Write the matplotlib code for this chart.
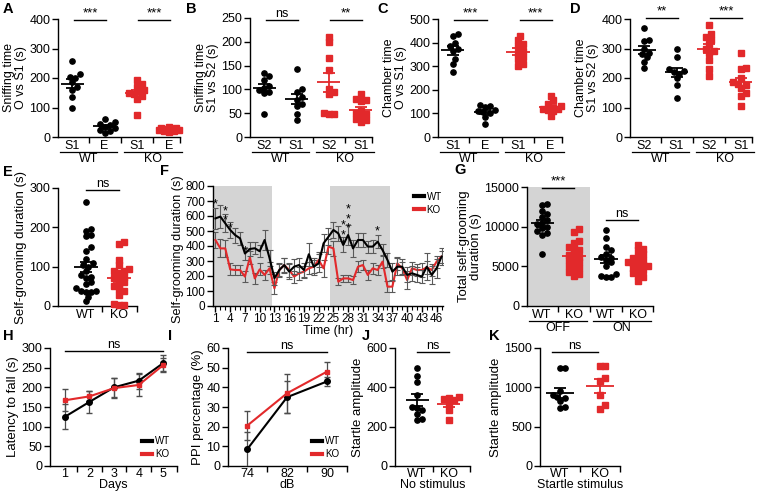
import numpy as np
import matplotlib
matplotlib.use("Agg")
import matplotlib.pyplot as plt
from matplotlib.lines import Line2D

plt.rcParams["font.family"] = ["Liberation Sans", "DejaVu Sans"]
plt.rcParams["font.size"] = 9
plt.rcParams["axes.linewidth"] = 1.0

RED = "#e2292b"
BLK = "black"

# ---------------- data ----------------
# A  sniffing time O vs S1
a_wt_s1 = [258, 212, 205, 200, 185, 170, 160, 135, 97]
a_wt_e = [62, 50, 45, 40, 35, 30, 25, 20, 15]
a_ko_s1 = [193, 178, 170, 160, 155, 150, 145, 140, 130, 75]
a_ko_e = [35, 32, 30, 28, 27, 25, 24, 22, 20, 18]
# B  sniffing time S1 vs S2
b_wt_s2 = [135, 128, 120, 108, 102, 98, 95, 92, 48]
b_wt_s1 = [143, 100, 95, 85, 78, 70, 65, 48, 35]
b_ko_s2 = [210, 200, 165, 140, 100, 95, 90, 50, 48, 48]
b_ko_s1 = [90, 80, 78, 75, 55, 50, 48, 42, 38, 35, 32]
# C  chamber time O vs S1
c_wt_s1 = [435, 430, 400, 385, 375, 365, 330, 310, 275]
c_wt_e = [135, 132, 128, 115, 110, 105, 100, 85, 55]
c_ko_s1 = [430, 410, 395, 385, 365, 355, 340, 330, 310, 300]
c_ko_e = [175, 155, 140, 130, 125, 120, 118, 115, 110, 90]
# D  chamber time S1 vs S2
d_wt_s2 = [370, 330, 325, 300, 285, 280, 270, 255, 235]
d_wt_s1 = [300, 270, 230, 225, 220, 215, 200, 175, 133]
d_ko_s2 = [380, 350, 340, 330, 315, 300, 290, 285, 260, 230, 208]
d_ko_s1 = [285, 235, 230, 200, 185, 180, 175, 165, 150, 140, 105]
# E  self-grooming duration
e_wt = [265, 195, 190, 180, 177, 150, 140, 110, 105, 120, 100, 88, 80, 75,
        70, 62, 55, 45, 38, 37, 36, 35, 24, 12]
e_ko = [162, 158, 118, 105, 95, 90, 88, 85, 75, 72, 68, 60, 55, 50, 42, 38,
        28, 5, 3, 2]
# F  hourly self-grooming
f_hours = list(range(1, 48))
f_wt = [584, 596, 551, 507, 473, 451, 350, 380, 385, 365, 440, 320, 185,
        240, 273, 229, 262, 273, 240, 345, 262, 284, 418, 462, 507, 484,
        407, 473, 384, 440, 440, 396, 396, 429, 373, 307, 229, 262, 262,
        207, 218, 207, 196, 262, 207, 251, 329]
f_wt_err = [70, 75, 60, 55, 50, 45, 40, 45, 40, 40, 65, 55, 45,
            45, 50, 50, 50, 45, 45, 75, 55, 60, 60, 55, 55, 50,
            50, 65, 55, 45, 45, 40, 45, 45, 40, 45, 55, 55, 50,
            50, 50, 50, 45, 90, 60, 65, 55]
f_ko = [440, 384, 384, 244, 240, 240, 196, 324, 184, 244, 207, 251, 118,
        240, 273, 240, 196, 218, 229, 251, 262, 307, 251, 396, 384, 162,
        184, 184, 173, 262, 273, 207, 251, 240, 296, 129, 129, 284, 251,
        173, 251, 240, 240, 258, 240, 296, 329]
f_ko_err = [55, 60, 55, 40, 35, 35, 35, 45, 35, 40, 35, 40, 40,
            40, 45, 45, 40, 45, 40, 40, 45, 50, 55, 50, 50, 25,
            25, 25, 25, 35, 35, 35, 35, 35, 45, 35, 35, 45, 45,
            60, 45, 40, 45, 45, 40, 40, 40]
f_star_hours = [1, 3, 4, 7, 27, 28, 34]
f_star_counts = [1, 2, 1, 1, 3, 3, 1]
f_star_vals = [675, 600, 520, 365, 470, 580, 500]
# G  total self-grooming
g_off_wt = [12900, 12700, 12000, 11600, 11200, 10800, 10500, 10300, 10000,
            9800, 9500, 9000, 9200, 6600]
g_off_ko = [9700, 9300, 8200, 7900, 7500, 7200, 7000, 6600, 6400, 6200, 6000,
            5800, 5600, 5400, 5000, 4800, 4500, 4300, 4000, 3800]
g_on_wt = [9600, 8600, 7400, 7000, 6600, 6200, 6100, 5800, 5500, 5000, 4000,
           3800, 3700, 3700]
g_on_ko = [7700, 7200, 7000, 6600, 6300, 6000, 5800, 5700, 5500, 5400, 5200,
           5100, 5000, 4800, 4600, 4400, 4100, 3800, 3600, 3100]
# H  rotarod
h_days = [1, 2, 3, 4, 5]
h_wt = [125, 163, 200, 217, 262]
h_wt_err = [32, 27, 25, 20, 20]
h_ko = [167, 177, 198, 206, 257]
h_ko_err = [28, 13, 25, 28, 18]
# I  PPI
i_db = ["74", "82", "90"]
i_wt = [8.5, 35, 43]
i_wt_err = [9, 8, 2.5]
i_ko = [20.5, 37, 48]
i_ko_err = [7.5, 10, 5]
# J / K  startle
j_wt = [500, 460, 425, 360, 300, 295, 285, 265, 240, 235]
j_ko = [350, 345, 340, 335, 320, 285, 235]
k_wt = [1250, 1250, 950, 900, 880, 860, 820, 750, 740]
k_ko = [1270, 1270, 1120, 1080, 900, 770, 720]

# ---------------- helpers ----------------
W, H = 758, 492
fig = plt.figure(figsize=(W / 100, H / 100), dpi=100)


def ax_at(l, r, t, b):
    ax = fig.add_axes([l / W, 1 - b / H, (r - l) / W, (b - t) / H])
    for s in ["top", "right"]:
        ax.spines[s].set_visible(False)
    ax.tick_params(direction="out", length=4, width=1, pad=1.5, labelsize=9)
    return ax


def letter(x, y, s):
    fig.text(x / W, 1 - y / H, s, fontsize=10.5, fontweight="bold",
             ha="left", va="center")


def swarm(ax, xc, vals, d=5.0, maxoff=11.0):
    # simple beeswarm offsets (pixel space), clamped to a narrow band
    tr = ax.transData
    xc_px = tr.transform((xc, 0))[0]
    cands = [0.0]
    k = 1
    while k * d * 0.5 <= maxoff:
        cands += [k * d * 0.5, -k * d * 0.5]
        k += 1
    placed = []
    xs = np.zeros(len(vals))
    for i in np.argsort(vals):
        y_px = tr.transform((xc, vals[i]))[1]
        best, best_d = 0.0, -1
        for c in cands:
            md = min([np.hypot(xc_px + c - px, y_px - py) for px, py in placed]
                     or [1e9])
            if md >= d * 0.95:
                best = c
                break
            if md > best_d:
                best, best_d = c, md
        placed.append((xc_px + best, y_px))
        xs[i] = tr.inverted().transform((xc_px + best, y_px))[0]
    return xs


def dots(ax, xc, vals, color, marker):
    vals = np.asarray(vals, float)
    xs = swarm(ax, xc, vals)
    ax.plot(xs, vals, linestyle="none", marker=marker, ms=3.8, color=color,
            mec=color, clip_on=False, zorder=3)
    m = vals.mean()
    sem = vals.std(ddof=1) / np.sqrt(len(vals))
    ax.hlines(m, xc - 0.36, xc + 0.36, color=color, lw=1.3, zorder=4)
    ax.errorbar(xc, m, yerr=sem, fmt="none", ecolor=color, elinewidth=1.3,
                capsize=4, capthick=1.3, zorder=4)


def cat_axis(ax, labels, xlim, pad=2.5):
    n = len(labels)
    ax.set_xlim(*xlim)
    ax.set_xticks(range(n))
    ax.set_xticklabels(labels)
    ax.tick_params(axis="x", length=0, pad=pad)
    bounds = [i + 0.5 for i in range(n - 1)] + [xlim[1]]
    ax.set_xticks(bounds, minor=True)
    ax.tick_params(axis="x", which="minor", length=4, width=1)


def group(ax, x0, x1, text, y=-0.125):
    tr = ax.get_xaxis_transform()
    ax.plot([x0, x1], [y, y], color="k", lw=0.9, transform=tr, clip_on=False)
    ax.text((x0 + x1) / 2, y - 0.01, text, transform=tr, ha="center",
            va="top", fontsize=9)


def sig(ax, x0, x1, y, text):
    ax.plot([x0, x1], [y, y], color="k", lw=1.0, clip_on=False)
    ax.text((x0 + x1) / 2, y, text, ha="center", va="bottom",
            fontsize=9.5 if text != "ns" else 9)


def four_panel(ax, data, labels, groups, ylim, yticks, ylabel):
    ax.set_ylim(*ylim)
    ax.set_yticks(yticks)
    cat_axis(ax, labels, (-0.45, 3.35))
    for k, (vals, col, mk) in enumerate(data):
        dots(ax, k, vals, col, mk)
    group(ax, -0.4, 1.4, groups[0])
    group(ax, 1.6, 3.4, groups[1])
    ax.set_ylabel(ylabel, linespacing=1.0, labelpad=2)


# ---------------- row 1 ----------------
letter(3, 9, "A")
ax = ax_at(58, 180, 19, 137)
four_panel(ax, [(a_wt_s1, BLK, "o"), (a_wt_e, BLK, "o"),
                (a_ko_s1, RED, "s"), (a_ko_e, RED, "s")],
           ["S1", "E", "S1", "E"], ["WT", "KO"], (0, 400),
           [0, 100, 200, 300, 400], "Sniffing time\nO vs S1 (s)")
sig(ax, 0.05, 1.05, 397, "***")
sig(ax, 2.05, 3.05, 397, "***")

letter(186, 9, "B")
ax = ax_at(250, 372, 18, 137)
four_panel(ax, [(b_wt_s2, BLK, "o"), (b_wt_s1, BLK, "o"),
                (b_ko_s2, RED, "s"), (b_ko_s1, RED, "s")],
           ["S2", "S1", "S2", "S1"], ["WT", "KO"], (0, 250),
           [0, 50, 100, 150, 200, 250], "Sniffing time\nS1 vs S2 (s)")
sig(ax, 0.05, 1.05, 246, "ns")
sig(ax, 2.05, 3.05, 246, "**")

letter(377, 9, "C")
ax = ax_at(438, 562, 19, 137)
four_panel(ax, [(c_wt_s1, BLK, "o"), (c_wt_e, BLK, "o"),
                (c_ko_s1, RED, "s"), (c_ko_e, RED, "s")],
           ["S1", "E", "S1", "E"], ["WT", "KO"], (0, 500),
           [0, 100, 200, 300, 400, 500], "Chamber time\nO vs S1 (s)")
sig(ax, 0.05, 1.05, 497, "***")
sig(ax, 2.05, 3.05, 497, "***")

letter(570, 9, "D")
ax = ax_at(630, 752, 19, 137)
four_panel(ax, [(d_wt_s2, BLK, "o"), (d_wt_s1, BLK, "o"),
                (d_ko_s2, RED, "s"), (d_ko_s1, RED, "s")],
           ["S2", "S1", "S2", "S1"], ["WT", "KO"], (0, 400),
           [0, 100, 200, 300, 400], "Chamber time\nS1 vs S2 (s)")
sig(ax, 0.05, 1.05, 405, "**")
sig(ax, 2.05, 3.05, 405, "***")

# ---------------- row 2 ----------------
letter(3, 172, "E")
ax = ax_at(58, 137, 188, 306)
ax.set_ylim(0, 300)
ax.set_yticks([0, 100, 200, 300])
cat_axis(ax, ["WT", "KO"], (-0.85, 1.55))
dots(ax, 0, e_wt, BLK, "o")
dots(ax, 1, e_ko, RED, "s")
sig(ax, 0, 1, 296, "ns")
ax.set_ylabel("Self-grooming duration (s)", labelpad=2, fontsize=9.5)

letter(160, 171, "F")
ax = ax_at(213, 443, 186, 306)
ax.axvspan(0.5, 12.6, color="#d4d4d4", lw=0, zorder=0)
ax.axvspan(24.4, 36.5, color="#d4d4d4", lw=0, zorder=0)
ax.errorbar(f_hours, f_wt, yerr=f_wt_err, color=BLK, lw=1.5, ecolor="0.35",
            elinewidth=0.8, capsize=2, capthick=0.8, zorder=3)
ax.errorbar(f_hours, f_ko, yerr=f_ko_err, color=RED, lw=1.5, ecolor="0.35",
            elinewidth=0.8, capsize=2, capthick=0.8, zorder=2)
for hx, cnt, hv in zip(f_star_hours, f_star_counts, f_star_vals):
    ax.text(hx, hv, "\n".join(["*"] * cnt), ha="center", va="center",
            fontsize=9, linespacing=0.75, zorder=5)
ax.set_xlim(0.5, 47.3)
ax.set_ylim(0, 800)
ax.set_yticks(range(0, 801, 100))
ax.set_xticks(range(1, 47, 3))
ax.set_xticks(range(1, 48), minor=True)
ax.tick_params(axis="x", which="minor", length=3, width=0.8)
ax.tick_params(axis="x", pad=1, labelsize=8.5)
ax.tick_params(axis="y", labelsize=8.5)
ax.set_xlabel("Time (hr)", labelpad=0)
ax.set_ylabel("Self-grooming duration (s)", labelpad=1, fontsize=9.2)
ax.yaxis.set_label_coords(-0.125, 0.47)
ax.legend([Line2D([], [], color=BLK, lw=3), Line2D([], [], color=RED, lw=3)],
          ["WT", "KO"], loc="upper right", frameon=False, fontsize=7,
          handlelength=1.0, handletextpad=0.3, labelspacing=0.3,
          borderaxespad=0.2, bbox_to_anchor=(1.02, 1.0))

letter(454, 170, "G")
ax = ax_at(527, 653, 187, 306)
ax.set_ylim(0, 15000)
ax.set_yticks([0, 5000, 10000, 15000])
cat_axis(ax, ["WT", "KO", "WT", "KO"], (-0.47, 3.47))
ax.axvspan(-0.47, 1.5, ymax=1.0, color="#d4d4d4", lw=0, zorder=0)
dots(ax, 0, g_off_wt, BLK, "o")
dots(ax, 1, g_off_ko, RED, "s")
dots(ax, 2, g_on_wt, BLK, "o")
dots(ax, 3, g_on_ko, RED, "s")
group(ax, -0.4, 1.4, "OFF")
group(ax, 1.6, 3.4, "ON")
sig(ax, 0, 1, 14900, "***")
sig(ax, 2, 3, 10800, "ns")
ax.set_ylabel("Total self-grooming\nduration (s)", linespacing=1.0,
              labelpad=2, fontsize=9.5)

# ---------------- row 3 ----------------
letter(3, 336, "H")
ax = ax_at(50, 177, 348, 466)
ax.errorbar(h_days, h_wt, yerr=h_wt_err, color=BLK, marker="o", ms=4,
            lw=1.5, ecolor="0.3", elinewidth=0.9, capsize=2.5, zorder=3)
ax.errorbar(h_days, h_ko, yerr=h_ko_err, color=RED, marker="s", ms=3.5,
            lw=1.5, ecolor="0.3", elinewidth=0.9, capsize=2.5, zorder=3)
ax.set_xlim(0.4, 5.55)
ax.set_ylim(0, 300)
ax.set_yticks(range(0, 301, 50))
ax.set_xticks(h_days)
ax.set_xticks([1.5, 2.5, 3.5, 4.5, 5.55], minor=True)
ax.tick_params(axis="x", which="major", length=0, pad=1.5)
ax.tick_params(axis="x", which="minor", length=4, width=1)
sig(ax, 1, 5, 292, "ns")
ax.set_xlabel("Days", labelpad=-1)
ax.set_ylabel("Latency to fall (s)", labelpad=2, fontsize=9.5)
ax.legend([Line2D([], [], color=BLK, lw=3), Line2D([], [], color=RED, lw=3)],
          ["WT", "KO"], loc="lower right", frameon=False, fontsize=7,
          handlelength=1.0, handletextpad=0.3, labelspacing=0.3,
          borderaxespad=0.3)

letter(168, 336, "I")
ax = ax_at(228, 347, 348, 466)
ix = np.arange(len(i_db))
ax.errorbar(ix, i_wt, yerr=i_wt_err, color=BLK, marker="o", ms=4, lw=1.5,
            ecolor="0.3", elinewidth=0.9, capsize=2.5, zorder=3)
ax.errorbar(ix, i_ko, yerr=i_ko_err, color=RED, marker="s", ms=3.5, lw=1.5,
            ecolor="0.3", elinewidth=0.9, capsize=2.5, zorder=3)
ax.set_ylim(0, 60)
ax.set_yticks(range(0, 61, 10))
cat_axis(ax, i_db, (-0.48, 2.5), pad=1.5)
sig(ax, 0, 2, 58, "ns")
ax.set_xlabel("dB", labelpad=-1)
ax.set_ylabel("PPI percentage (%)", labelpad=2, fontsize=9.5)
ax.legend([Line2D([], [], color=BLK, lw=3), Line2D([], [], color=RED, lw=3)],
          ["WT", "KO"], loc="lower right", frameon=False, fontsize=7,
          handlelength=1.0, handletextpad=0.3, labelspacing=0.3,
          borderaxespad=0.3)

letter(362, 336, "J")
ax = ax_at(395, 470, 348, 466)
ax.set_ylim(0, 600)
ax.set_yticks([0, 200, 400, 600])
cat_axis(ax, ["WT", "KO"], (-0.69, 1.66), pad=1.5)
dots(ax, 0, j_wt, BLK, "o")
dots(ax, 1, j_ko, RED, "s")
sig(ax, 0, 1, 578, "ns")
ax.set_xlabel("No stimulus", labelpad=-1)
ax.set_ylabel("Startle amplitude", labelpad=2, fontsize=9.5)

letter(489, 336, "K")
ax = ax_at(540, 620, 348, 466)
ax.set_ylim(0, 1500)
ax.set_yticks([0, 500, 1000, 1500])
cat_axis(ax, ["WT", "KO"], (-0.5, 1.5), pad=1.5)
dots(ax, 0, k_wt, BLK, "o")
dots(ax, 1, k_ko, RED, "s")
sig(ax, -0.2, 0.95, 1445, "ns")
ax.set_xlabel("Startle stimulus", labelpad=-1)
ax.set_ylabel("Startle amplitude", labelpad=2, fontsize=9.5)

fig.savefig("out.png", dpi=100)
